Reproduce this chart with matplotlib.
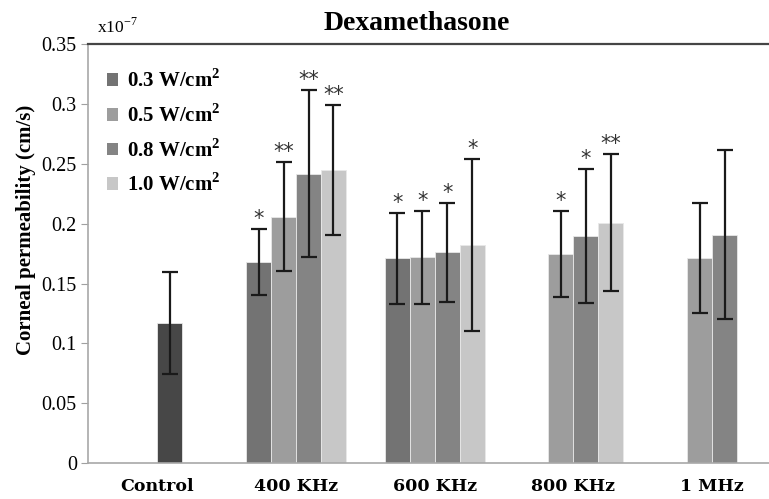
import numpy as np
import matplotlib
matplotlib.use("Agg")
import matplotlib.pyplot as plt
from matplotlib.patches import Patch

# data (units of 1e-7 cm/s)
categories = ["Control", "400 KHz", "600 KHz", "800 KHz", "1 MHz"]
series = ["0.3 W/cm$^{\\mathregular{2}}$", "0.5 W/cm$^{\\mathregular{2}}$",
          "0.8 W/cm$^{\\mathregular{2}}$", "1.0 W/cm$^{\\mathregular{2}}$"]

control_mean = 0.117
control_err = 0.043

# rows: 400 KHz, 600 KHz, 800 KHz, 1 MHz ; cols: 0.3, 0.5, 0.8, 1.0 W/cm2
means = [
    [0.168, 0.206, 0.242, 0.245],
    [0.171, 0.172, 0.176, 0.182],
    [np.nan, 0.175, 0.190, 0.201],
    [np.nan, 0.171, 0.191, np.nan],
]
errs = [
    [0.0275, 0.0455, 0.070, 0.054],
    [0.038, 0.039, 0.041, 0.072],
    [np.nan, 0.036, 0.056, 0.057],
    [np.nan, 0.046, 0.0705, np.nan],
]
stars = [
    ["*", "**", "**", "**"],
    ["*", "*", "*", "*"],
    ["", "*", "*", "**"],
    ["", "", "", ""],
]

colors = ["#737373", "#9d9d9d", "#848484", "#c7c7c7"]
control_color = "#474747"

serif = "Liberation Serif"

fig = plt.figure(figsize=(7.69, 4.99), dpi=100)
ax = fig.add_axes([0.1144, 0.0721, 0.8856, 0.8391])

w = 0.18
offsets = (np.arange(4) - 1.5) * w
ekw = dict(ecolor="#1a1a1a", elinewidth=1.6, capsize=6, capthick=1.6)

# control bar sits in the third slot of its group
xc = 0 + offsets[2]
ax.bar(xc, control_mean, w, color=control_color, edgecolor="#e8e8e8", linewidth=0.6)
ax.errorbar(xc, control_mean, yerr=control_err, fmt="none", **ekw)

m = np.array(means)
e = np.array(errs)
for j in range(4):
    xs = np.arange(1, 5) + offsets[j]
    ax.bar(xs, m[:, j], w, color=colors[j], edgecolor="#e8e8e8", linewidth=0.6)
    ax.errorbar(xs, m[:, j], yerr=e[:, j], fmt="none", **ekw)
    for i in range(4):
        if stars[i][j]:
            ax.annotate(stars[i][j], (xs[i], m[i, j] + e[i, j]),
                        xytext=(0, 0), textcoords="offset points",
                        ha="center", va="bottom", fontsize=15, color="#333333")

ax.set_xlim(-0.5, 4.41)
ax.set_ylim(0, 0.35)
ax.set_yticks(np.arange(0, 0.351, 0.05))
ax.set_yticklabels(["0", "0.05", "0.1", "0.15", "0.2", "0.25", "0.3", "0.35"],
                   fontfamily=serif, fontsize=14.5)
ax.set_xticks(range(5))
ax.set_xticklabels(categories, fontfamily="DejaVu Serif", fontweight="bold",
                   fontsize=12.5)
ax.tick_params(axis="x", length=0, pad=11)
ax.tick_params(axis="y", length=5, color="#a0a0a0", pad=3)

ax.spines["right"].set_visible(False)
ax.spines["top"].set_color("#454545")
ax.spines["top"].set_linewidth(1.6)
for s in ["left", "bottom"]:
    ax.spines[s].set_color("#a8a8a8")
    ax.spines[s].set_linewidth(1.2)

ax.set_ylabel("Corneal permeability (cm/s)", fontfamily=serif,
              fontweight="bold", fontsize=15)
ax.yaxis.set_label_coords(-0.077, 0.556)

fig.text(0.542, 0.953, "Dexamethasone", fontfamily=serif, fontweight="bold",
         fontsize=20, ha="center", va="center")
fig.text(0.126, 0.946, "x10$^{\\mathregular{-7}}$", fontfamily=serif,
         fontsize=12.5, ha="left", va="center")

handles = [Patch(facecolor=c, edgecolor="none") for c in colors]
leg = ax.legend(handles, series, loc="upper left", bbox_to_anchor=(0.0, 0.985),
                frameon=False, handlelength=0.55, handleheight=0.55,
                handletextpad=0.4, labelspacing=0.58,
                prop=dict(family=serif, weight="bold", size=15))

fig.savefig("out.png", dpi=100)
